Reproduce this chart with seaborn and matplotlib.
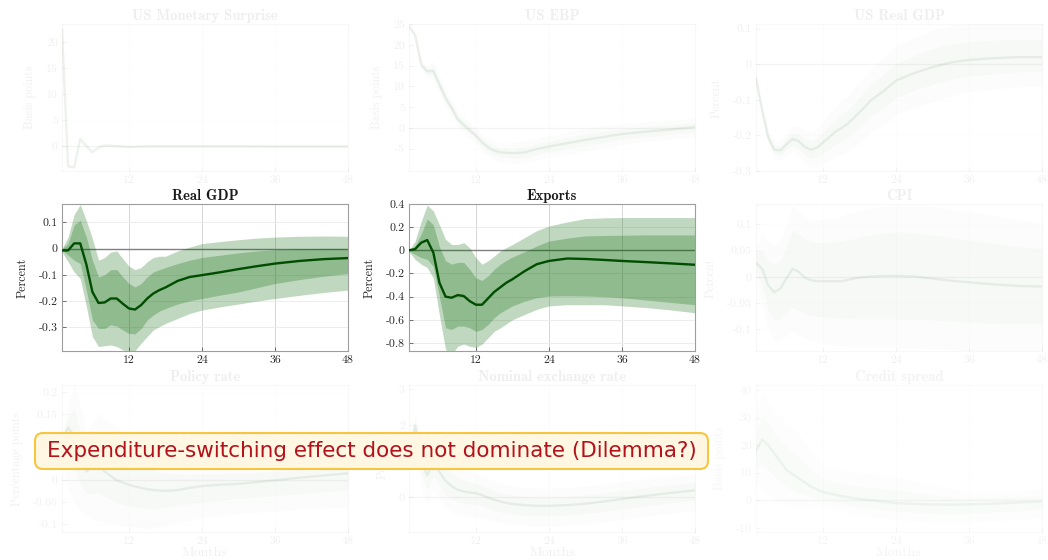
import numpy as np
import matplotlib
matplotlib.use("Agg")
import matplotlib.pyplot as plt
import matplotlib.colors as mcolors
from matplotlib.patches import FancyBboxPatch
from matplotlib.ticker import FixedLocator, FuncFormatter
import seaborn as sns

# Horizon (months) at which each response is recorded
months = [1, 2, 3, 4, 5, 6, 7, 8, 9, 10, 11, 12, 13, 14, 15, 16, 17, 18,
          20, 22, 24, 27, 30, 33, 36, 40, 44, 48]
x_ticks = [12, 24, 36, 48]

# --- US Monetary Surprise (basis points) ---
ms_med = [22.5, -3.9, -4.1, 1.4, 0.0, -1.2, -0.3, 0.1, 0.05, 0.0, -0.1, -0.2, -0.15, -0.1,
          -0.05, -0.05, -0.05, -0.05, -0.05, -0.05, -0.05, -0.05, -0.05, -0.08, -0.1, -0.1, -0.1, -0.1]

# --- US EBP (basis points) ---
ebp_med = [24.5, 22.3, 15.2, 13.6, 13.7, 10.4, 7.2, 4.8, 2.1, 0.7, -0.6, -1.9, -3.5, -4.7,
           -5.5, -5.9, -6.0, -6.1, -5.9, -5.1, -4.5, -3.7, -2.9, -2.2, -1.5, -0.9, -0.4, 0.2]
ebp_hi90 = [24.5, 22.8, 16.2, 15.0, 16.0, 12.5, 9.2, 6.8, 4.0, 2.6, 1.2, -0.1, -1.5, -2.6,
            -3.3, -3.6, -3.6, -3.6, -3.3, -2.5, -1.9, -1.0, -0.2, 0.5, 1.0, 1.5, 1.9, 2.3]
ebp_lo90 = [24.5, 21.8, 14.2, 12.2, 11.6, 8.4, 5.2, 2.8, 0.2, -1.2, -2.5, -3.8, -5.5, -6.9,
            -7.8, -8.3, -8.5, -8.6, -8.5, -7.7, -7.1, -6.4, -5.6, -4.9, -4.0, -3.3, -2.7, -2.0]
ebp_hi68 = [24.5, 22.5, 15.7, 14.3, 14.8, 11.4, 8.2, 5.8, 3.0, 1.6, 0.3, -1.0, -2.5, -3.6,
            -4.4, -4.8, -4.8, -4.9, -4.6, -3.8, -3.2, -2.3, -1.5, -0.8, -0.2, 0.3, 0.8, 1.2]
ebp_lo68 = [24.5, 22.0, 14.7, 12.9, 12.6, 9.4, 6.2, 3.8, 1.1, -0.2, -1.5, -2.8, -4.5, -5.8,
            -6.6, -7.1, -7.2, -7.3, -7.2, -6.4, -5.8, -5.1, -4.3, -3.6, -2.8, -2.1, -1.6, -1.0]

# --- US Real GDP (percent) ---
usgdp_med = [-0.039, -0.13, -0.206, -0.24, -0.242, -0.225, -0.21, -0.216, -0.232, -0.24, -0.235,
             -0.22, -0.206, -0.19, -0.18, -0.168, -0.152, -0.135, -0.10, -0.075, -0.046, -0.025,
             -0.008, 0.005, 0.012, 0.017, 0.02, 0.02]
usgdp_hi90 = [-0.035, -0.115, -0.185, -0.215, -0.215, -0.195, -0.175, -0.175, -0.185, -0.19, -0.18,
              -0.16, -0.14, -0.12, -0.105, -0.09, -0.07, -0.05, -0.01, 0.02, 0.05, 0.075, 0.095,
              0.108, 0.115, 0.12, 0.12, 0.12]
usgdp_lo90 = [-0.043, -0.145, -0.227, -0.265, -0.27, -0.255, -0.245, -0.257, -0.279, -0.29, -0.29,
              -0.28, -0.272, -0.26, -0.255, -0.246, -0.234, -0.22, -0.19, -0.17, -0.142, -0.122,
              -0.105, -0.09, -0.078, -0.07, -0.064, -0.06]
usgdp_hi68 = [-0.037, -0.122, -0.195, -0.228, -0.228, -0.21, -0.192, -0.195, -0.208, -0.215, -0.207,
              -0.19, -0.173, -0.155, -0.142, -0.129, -0.111, -0.093, -0.055, -0.028, 0.002, 0.025,
              0.044, 0.056, 0.064, 0.068, 0.07, 0.07]
usgdp_lo68 = [-0.041, -0.138, -0.217, -0.252, -0.256, -0.24, -0.228, -0.237, -0.256, -0.265, -0.262,
              -0.25, -0.239, -0.225, -0.218, -0.207, -0.193, -0.178, -0.145, -0.122, -0.094, -0.073,
              -0.056, -0.043, -0.033, -0.027, -0.022, -0.02]

# --- Real GDP (percent) ---
gdp_med = [-0.007, -0.007, 0.02, 0.02, -0.06, -0.165, -0.207, -0.205, -0.19, -0.19, -0.21, -0.228,
           -0.232, -0.215, -0.19, -0.171, -0.158, -0.148, -0.123, -0.108, -0.101, -0.09, -0.078,
           -0.067, -0.057, -0.047, -0.04, -0.036]
gdp_hi90 = [0.0, 0.044, 0.13, 0.168, 0.107, 0.038, -0.044, -0.034, -0.013, -0.009, -0.038, -0.067,
            -0.08, -0.072, -0.05, -0.034, -0.029, -0.029, -0.009, 0.006, 0.019, 0.027, 0.034, 0.04,
            0.044, 0.047, 0.048, 0.047]
gdp_lo90 = [-0.013, -0.05, -0.089, -0.114, -0.22, -0.335, -0.373, -0.37, -0.367, -0.373, -0.386,
            -0.39, -0.389, -0.36, -0.335, -0.31, -0.297, -0.285, -0.266, -0.247, -0.234, -0.222,
            -0.211, -0.2, -0.19, -0.178, -0.167, -0.158]
gdp_hi68 = [0.0, 0.02, 0.09, 0.108, 0.044, -0.044, -0.108, -0.1, -0.08, -0.08, -0.108, -0.133,
            -0.146, -0.133, -0.108, -0.089, -0.08, -0.072, -0.057, -0.044, -0.034, -0.025, -0.016,
            -0.009, -0.004, 0.0, 0.001, 0.001]
gdp_lo68 = [-0.006, -0.025, -0.044, -0.057, -0.158, -0.272, -0.304, -0.304, -0.29, -0.295, -0.31,
            -0.323, -0.325, -0.304, -0.272, -0.253, -0.238, -0.228, -0.211, -0.199, -0.19, -0.177,
            -0.165, -0.149, -0.133, -0.118, -0.105, -0.095]

# --- Exports (percent) ---
exp_med = [0.0, 0.01, 0.066, 0.088, -0.02, -0.28, -0.40, -0.41, -0.387, -0.395, -0.44, -0.47,
           -0.47, -0.415, -0.36, -0.32, -0.28, -0.25, -0.18, -0.12, -0.092, -0.071, -0.075,
           -0.083, -0.092, -0.102, -0.113, -0.125]
exp_hi90 = [0.0, 0.08, 0.25, 0.39, 0.34, 0.22, 0.095, 0.05, 0.05, 0.066, 0.02, -0.065, -0.12,
            -0.09, -0.05, -0.006, 0.023, 0.05, 0.11, 0.17, 0.21, 0.245, 0.274, 0.28, 0.283,
            0.283, 0.283, 0.283]
exp_lo90 = [-0.012, -0.078, -0.12, -0.15, -0.24, -0.56, -0.857, -0.9, -0.83, -0.81, -0.83, -0.84,
            -0.81, -0.756, -0.70, -0.67, -0.635, -0.6, -0.554, -0.51, -0.48, -0.47, -0.47, -0.47,
            -0.48, -0.495, -0.515, -0.54]
exp_hi68 = [0.0, 0.04, 0.14, 0.27, 0.22, 0.03, -0.09, -0.12, -0.105, -0.105, -0.165, -0.24, -0.26,
            -0.22, -0.165, -0.12, -0.087, -0.058, -0.012, 0.037, 0.08, 0.105, 0.124, 0.128, 0.13,
            0.133, 0.133, 0.133]
exp_lo68 = [-0.006, -0.035, -0.063, -0.078, -0.14, -0.40, -0.67, -0.684, -0.655, -0.655, -0.67,
            -0.70, -0.684, -0.64, -0.583, -0.54, -0.51, -0.48, -0.44, -0.41, -0.395, -0.393,
            -0.395, -0.40, -0.41, -0.43, -0.45, -0.47]

# --- CPI (percent) ---
cpi_med = [0.027, 0.016, -0.016, -0.029, -0.022, -0.003, 0.016, 0.01, -0.001, -0.006, -0.008,
           -0.008, -0.008, -0.008, -0.008, -0.006, -0.003, -0.001, 0.001, 0.002, 0.002, 0.001,
           -0.003, -0.007, -0.01, -0.014, -0.017, -0.018]
cpi_hi90 = [0.057, 0.083, 0.067, 0.06, 0.07, 0.10, 0.135, 0.127, 0.115, 0.108, 0.108, 0.11, 0.112,
            0.113, 0.115, 0.12, 0.124, 0.127, 0.132, 0.135, 0.137, 0.136, 0.134, 0.13, 0.124,
            0.117, 0.109, 0.102]
cpi_lo90 = [0.0, -0.057, -0.096, -0.121, -0.121, -0.111, -0.105, -0.111, -0.116, -0.121, -0.124,
            -0.127, -0.129, -0.13, -0.131, -0.132, -0.133, -0.134, -0.134, -0.134, -0.134, -0.135,
            -0.137, -0.138, -0.14, -0.14, -0.14, -0.14]
cpi_hi68 = [0.045, 0.051, 0.032, 0.025, 0.032, 0.057, 0.089, 0.083, 0.073, 0.067, 0.065, 0.065,
            0.066, 0.067, 0.069, 0.071, 0.073, 0.076, 0.081, 0.084, 0.086, 0.084, 0.08, 0.075,
            0.07, 0.064, 0.058, 0.054]
cpi_lo68 = [0.013, -0.019, -0.064, -0.083, -0.08, -0.067, -0.057, -0.064, -0.069, -0.073, -0.075,
            -0.076, -0.077, -0.078, -0.078, -0.079, -0.08, -0.08, -0.08, -0.08, -0.08, -0.081,
            -0.082, -0.084, -0.086, -0.088, -0.089, -0.09]

# --- Policy rate (percentage points) ---
pr_med = [0.09, 0.12, 0.10, 0.05, 0.02, 0.03, 0.035, 0.02, 0.01, 0.0, -0.005, -0.01, -0.014,
          -0.017, -0.02, -0.022, -0.023, -0.024, -0.022, -0.017, -0.013, -0.01, -0.008, -0.004,
          0.0, 0.006, 0.011, 0.016]
pr_hi90 = [0.10, 0.17, 0.215, 0.17, 0.11, 0.13, 0.15, 0.14, 0.13, 0.12, 0.11, 0.10, 0.09, 0.08,
           0.072, 0.066, 0.061, 0.057, 0.05, 0.045, 0.042, 0.04, 0.039, 0.04, 0.041, 0.044,
           0.047, 0.05]
pr_lo90 = [0.05, -0.02, -0.05, -0.07, -0.08, -0.09, -0.092, -0.095, -0.098, -0.1, -0.103, -0.105,
           -0.107, -0.108, -0.11, -0.108, -0.105, -0.1, -0.095, -0.09, -0.085, -0.08, -0.075,
           -0.072, -0.07, -0.066, -0.063, -0.06]
pr_hi68 = [0.095, 0.145, 0.16, 0.11, 0.065, 0.08, 0.092, 0.08, 0.07, 0.06, 0.052, 0.045, 0.038,
           0.032, 0.026, 0.022, 0.019, 0.016, 0.014, 0.014, 0.015, 0.015, 0.016, 0.018, 0.02,
           0.025, 0.029, 0.033]
pr_lo68 = [0.07, 0.05, 0.025, -0.01, -0.03, -0.03, -0.028, -0.037, -0.044, -0.05, -0.054, -0.058,
           -0.06, -0.062, -0.065, -0.065, -0.064, -0.062, -0.058, -0.053, -0.049, -0.045, -0.041,
           -0.038, -0.035, -0.03, -0.026, -0.022]

# --- Nominal exchange rate (percent) ---
fx_med = [1.2, 2.0, 1.0, 0.6, 1.0, 0.7, 0.45, 0.3, 0.2, 0.15, 0.12, 0.1, 0.05, -0.02, -0.08,
          -0.13, -0.17, -0.2, -0.23, -0.25, -0.25, -0.23, -0.19, -0.13, -0.06, 0.03, 0.11, 0.18]
fx_hi90 = [1.4, 2.3, 1.6, 1.3, 1.7, 1.45, 1.2, 1.05, 0.9, 0.8, 0.72, 0.65, 0.58, 0.5, 0.43, 0.38,
           0.34, 0.3, 0.26, 0.24, 0.24, 0.26, 0.3, 0.36, 0.42, 0.5, 0.57, 0.63]
fx_lo90 = [1.0, 1.6, 0.3, -0.2, 0.2, -0.05, -0.3, -0.42, -0.5, -0.52, -0.54, -0.55, -0.58, -0.63,
           -0.68, -0.72, -0.76, -0.78, -0.8, -0.82, -0.82, -0.8, -0.76, -0.7, -0.63, -0.54, -0.45,
           -0.38]
fx_hi68 = [1.3, 2.15, 1.3, 0.95, 1.35, 1.07, 0.83, 0.68, 0.55, 0.47, 0.42, 0.37, 0.31, 0.24,
           0.17, 0.12, 0.08, 0.05, 0.01, -0.01, -0.01, 0.01, 0.05, 0.11, 0.18, 0.26, 0.34, 0.4]
fx_lo68 = [1.1, 1.8, 0.65, 0.2, 0.6, 0.32, 0.07, -0.06, -0.15, -0.18, -0.21, -0.22, -0.26, -0.32,
           -0.38, -0.43, -0.46, -0.49, -0.51, -0.53, -0.53, -0.51, -0.47, -0.41, -0.34, -0.25,
           -0.17, -0.1]

# --- Credit spread (basis points) ---
cs_med = [18, 22, 20, 17, 14, 11, 9.5, 8, 6.5, 5, 4, 3, 2.5, 2, 1.5, 1.2, 0.8, 0.5, 0, -0.5, -1,
          -1.3, -1.5, -1.6, -1.5, -1.2, -0.8, -0.5]
cs_hi90 = [30, 40, 36, 32, 30, 28, 26, 24, 21, 18, 15.5, 13, 12, 11.5, 11, 10.5, 10, 9.8, 9.5, 9,
           8.5, 7, 5.5, 4, 3, 3, 3.5, 4]
cs_lo90 = [6, 4, 2, 0, -1, -1.5, -2, -2.5, -2.5, -2.5, -2.5, -2.5, -3, -3.5, -4, -4.5, -5, -5.5,
           -6, -6.5, -7, -7.5, -8, -8, -8, -7.5, -7, -6]
cs_hi68 = [24, 31, 28, 24.5, 22, 19.5, 17.7, 16, 13.7, 11.5, 9.7, 8, 7.2, 6.7, 6.2, 5.8, 5.4,
           5.1, 4.7, 4.2, 3.7, 2.8, 2, 1.2, 0.7, 0.9, 1.3, 1.7]
cs_lo68 = [12, 13, 11, 8.5, 6.5, 4.7, 3.7, 2.7, 2, 1.2, 0.7, 0.2, -0.2, -0.7, -1.2, -1.6, -2.1,
           -2.5, -3, -3.5, -4, -4.4, -4.7, -4.8, -4.7, -4.3, -3.9, -3.2]

note_text = "Expenditure-switching effect does not dominate (Dilemma?)"

# ---------------------------------------------------------------------------
sns.set_theme(style="white")
plt.rcParams.update({
    "font.family": "cmr10",
    "mathtext.fontset": "cm",
    "axes.unicode_minus": False,
    "axes.formatter.use_mathtext": False,
})

BAND = (0.0, 0.4, 0.0)
MED = "#004c00"
DIM = 0.07  # opacity of the panels kept in the background


def ink(color, k):
    r, g, b, a = mcolors.to_rgba(color)
    return (r, g, b, a * k)


def draw_panel(ax, title, ylabel, med, bands, ylim, yticks, k, xlabel=None):
    ax.set_xlim(1, 48)
    ax.set_ylim(*ylim)
    ax.set_facecolor("white")
    ax.xaxis.set_major_locator(FixedLocator(x_ticks))
    ax.yaxis.set_major_locator(FixedLocator(yticks))
    ax.yaxis.set_major_formatter(FuncFormatter(lambda v, p: f"{v:g}"))
    ax.xaxis.set_major_formatter(FuncFormatter(lambda v, p: f"{v:g}"))

    ax.grid(axis="x", color="0.84", alpha=k, lw=0.7, zorder=0)
    ax.grid(axis="y", color="0.93", alpha=k, lw=0.7, zorder=0)
    ax.set_axisbelow(True)
    ax.axhline(0, color="0.5", alpha=k, lw=1.0, zorder=1)

    if bands is not None:
        lo90, hi90, lo68, hi68 = bands
        ax.fill_between(months, lo90, hi90, color=BAND, alpha=0.25 * k, lw=0, zorder=2)
        ax.fill_between(months, lo68, hi68, color=BAND, alpha=0.25 * k, lw=0, zorder=2)
    sns.lineplot(x=months, y=med, ax=ax, color=MED, lw=1.7, alpha=k, zorder=3)
    ax.set_ylabel("")
    ax.set_xlabel("")

    for s in ax.spines.values():
        s.set_visible(True)
        s.set_edgecolor(ink("0.62", k))
        s.set_linewidth(0.8)
    ax.tick_params(axis="both", which="major", direction="in", length=3, width=0.6,
                   color=ink("0.35", k), labelcolor=ink("0.15", k), labelsize=8.5, pad=3,
                   bottom=True, left=True)

    ax.set_title(title, fontsize=10.5, fontfamily="cmb10", color=ink("0.1", k), pad=3)
    ax.set_ylabel(ylabel, fontsize=8.7, color=ink("0.15", k), labelpad=7)
    if xlabel:
        ax.set_xlabel(xlabel, fontsize=10, color=ink("0.15", k), labelpad=1)


W, H = 1048, 560
fig = plt.figure(figsize=(W / 100, H / 100), dpi=100)
fig.patch.set_facecolor("white")

col_left = [62, 409, 756]
row_top = [24, 204, 385]
ax_w, ax_h = 286, 147


def make_ax(r, c):
    return fig.add_axes([col_left[c] / W, 1 - (row_top[r] + ax_h) / H, ax_w / W, ax_h / H])


panels = [
    (0, 0, "US Monetary Surprise", "Basis points", ms_med, None,
     (-4.8, 23.5), [0, 5, 10, 15, 20], DIM, None),
    (0, 1, "US EBP", "Basis points", ebp_med, (ebp_lo90, ebp_hi90, ebp_lo68, ebp_hi68),
     (-10.4, 25), [-5, 0, 5, 10, 15, 20, 25], DIM, None),
    (0, 2, "US Real GDP", "Percent", usgdp_med, (usgdp_lo90, usgdp_hi90, usgdp_lo68, usgdp_hi68),
     (-0.30, 0.113), [-0.3, -0.2, -0.1, 0, 0.1], DIM, None),
    (1, 0, "Real GDP", "Percent", gdp_med, (gdp_lo90, gdp_hi90, gdp_lo68, gdp_hi68),
     (-0.39, 0.17), [-0.3, -0.2, -0.1, 0, 0.1], 1.0, None),
    (1, 1, "Exports", "Percent", exp_med, (exp_lo90, exp_hi90, exp_lo68, exp_hi68),
     (-0.87, 0.40), [-0.8, -0.6, -0.4, -0.2, 0, 0.2, 0.4], 1.0, None),
    (1, 2, "CPI", "Percent", cpi_med, (cpi_lo90, cpi_hi90, cpi_lo68, cpi_hi68),
     (-0.141, 0.139), [-0.1, -0.05, 0, 0.05, 0.1], DIM, None),
    (2, 0, "Policy rate", "Percentage points", pr_med, (pr_lo90, pr_hi90, pr_lo68, pr_hi68),
     (-0.117, 0.216), [-0.1, -0.05, 0, 0.05, 0.1, 0.15, 0.2], DIM, "Months"),
    (2, 1, "Nominal exchange rate", "Percent", fx_med, (fx_lo90, fx_hi90, fx_lo68, fx_hi68),
     (-0.98, 3.12), [0, 1, 2, 3], DIM, "Months"),
    (2, 2, "Credit spread", "Basis points", cs_med, (cs_lo90, cs_hi90, cs_lo68, cs_hi68),
     (-11.5, 41.8), [-10, 0, 10, 20, 30, 40], 0.05, "Months"),
]

for r, c, title, ylabel, med, bands, ylim, yticks, k, xlabel in panels:
    ax = make_ax(r, c)
    draw_panel(ax, title, ylabel, med, bands, ylim, yticks, k, xlabel)

# Call-out box across the bottom row
box_x0, box_x1, box_top, box_bot = 35, 708, 433, 469
box = FancyBboxPatch((box_x0 / 100, (H - box_bot) / 100),
                     (box_x1 - box_x0) / 100, (box_bot - box_top) / 100,
                     boxstyle="round,pad=0,rounding_size=0.08",
                     transform=fig.dpi_scale_trans, facecolor="#fff7e2",
                     edgecolor="#f7c641", linewidth=1.5, zorder=10)
fig.add_artist(box)
fig.text((box_x0 + box_x1) / 2 / W, 1 - (box_top + box_bot) / 2 / H, note_text,
         ha="center", va="center", fontsize=15.5, color="#b3111c",
         family=["DejaVu Sans"], zorder=11)

fig.savefig("out.png", dpi=100, facecolor="white")
